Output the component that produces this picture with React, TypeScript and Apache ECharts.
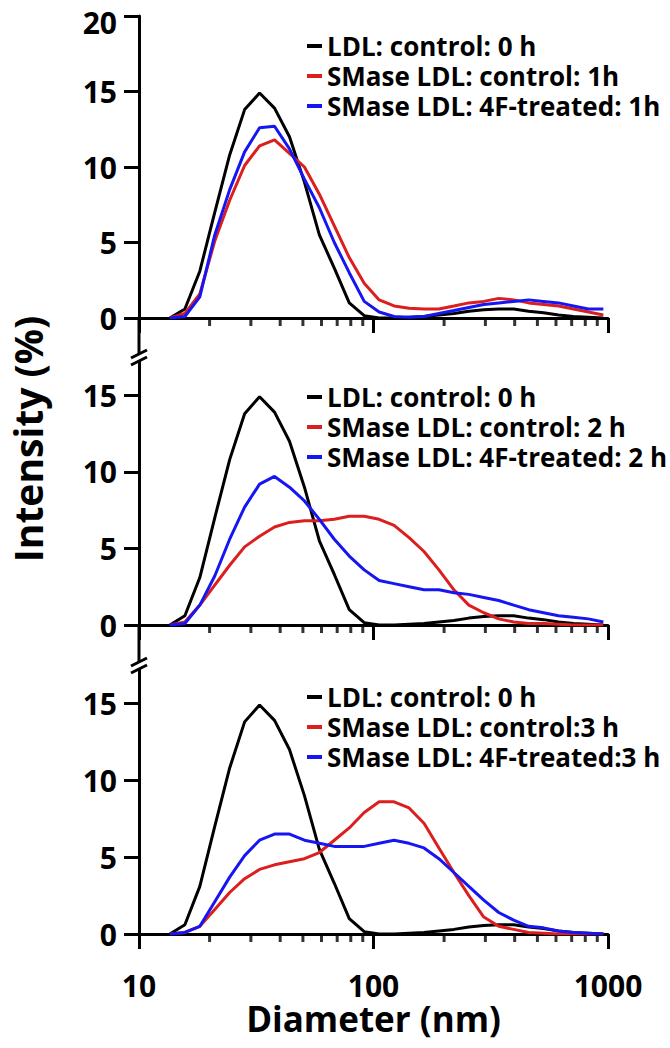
import React, { useEffect, useRef } from "react";
import * as echarts from "echarts";

// Malvern DLS size bins (nm) that carry the curves
const DIAMETERS = [
  13.54, 15.69, 18.17, 21.04, 24.36, 28.21, 32.67, 37.84, 43.82, 50.75,
  58.77, 68.06, 78.82, 91.28, 105.7, 122.4, 141.8, 164.2, 190.1, 220.2,
  255.0, 295.3, 342.0, 396.1, 458.7, 531.2, 615.1, 712.4, 825.0, 955.4,
];

const LDL_CONTROL_0H = [
  0, 0.6, 3.1, 7.0, 10.8, 13.8, 14.9, 13.9, 12.0, 9.0,
  5.5, 3.3, 1.0, 0.15, 0, 0, 0.05, 0.1, 0.2, 0.3,
  0.45, 0.55, 0.6, 0.6, 0.45, 0.35, 0.2, 0.1, 0.05, 0,
];
const SMASE_CONTROL_1H = [
  0, 0.3, 1.6, 5.1, 7.8, 10.1, 11.4, 11.8, 10.9, 10.0,
  8.2, 6.1, 4.0, 2.3, 1.2, 0.8, 0.65, 0.6, 0.6, 0.8,
  1.0, 1.1, 1.3, 1.2, 1.0, 0.9, 0.8, 0.6, 0.4, 0.2,
];
const SMASE_4F_1H = [
  0, 0.1, 1.4, 5.5, 8.5, 11.0, 12.6, 12.7, 11.2, 9.2,
  7.3, 5.0, 3.0, 1.1, 0.4, 0.1, 0.05, 0.1, 0.3, 0.5,
  0.7, 0.9, 1.0, 1.1, 1.2, 1.1, 1.0, 0.8, 0.6, 0.6,
];
const SMASE_CONTROL_2H = [
  0, 0.2, 1.3, 2.6, 3.9, 5.1, 5.8, 6.4, 6.7, 6.8,
  6.8, 6.9, 7.1, 7.1, 6.9, 6.5, 5.7, 4.8, 3.6, 2.3,
  1.3, 0.8, 0.4, 0.2, 0.1, 0.1, 0.05, 0, 0, 0,
];
const SMASE_4F_2H = [
  0, 0.1, 1.3, 3.2, 5.6, 7.7, 9.2, 9.7, 9.0, 8.1,
  6.9, 5.6, 4.5, 3.6, 2.9, 2.7, 2.5, 2.3, 2.3, 2.1,
  2.0, 1.8, 1.6, 1.3, 1.0, 0.8, 0.6, 0.5, 0.4, 0.2,
];
const SMASE_CONTROL_3H = [
  0, 0.1, 0.5, 1.6, 2.7, 3.6, 4.2, 4.5, 4.7, 4.9,
  5.3, 6.1, 6.9, 7.9, 8.6, 8.6, 8.2, 7.2, 5.6, 4.0,
  2.5, 1.1, 0.5, 0.3, 0.1, 0.05, 0, 0, 0, 0,
];
const SMASE_4F_3H = [
  0, 0.1, 0.5, 2.1, 3.7, 5.1, 6.1, 6.5, 6.5, 6.1,
  5.9, 5.7, 5.7, 5.7, 5.9, 6.1, 5.9, 5.6, 4.9, 4.0,
  3.1, 2.2, 1.4, 0.9, 0.5, 0.4, 0.2, 0.1, 0.05, 0,
];

const PANELS = [
  {
    names: ["LDL: control: 0 h", "SMase LDL: control: 1h", "SMase LDL: 4F-treated: 1h"],
    values: [LDL_CONTROL_0H, SMASE_CONTROL_1H, SMASE_4F_1H],
    yMax: 20,
    yTicks: [0, 5, 10, 15, 20],
  },
  {
    names: ["LDL: control: 0 h", "SMase LDL: control: 2 h", "SMase LDL: 4F-treated: 2 h"],
    values: [LDL_CONTROL_0H, SMASE_CONTROL_2H, SMASE_4F_2H],
    yMax: 17.5,
    yTicks: [0, 5, 10, 15],
  },
  {
    names: ["LDL: control: 0 h", "SMase LDL: control:3 h", "SMase LDL: 4F-treated:3 h"],
    values: [LDL_CONTROL_0H, SMASE_CONTROL_3H, SMASE_4F_3H],
    yMax: 17.5,
    yTicks: [0, 5, 10, 15],
  },
];

const X_MINOR = [20, 30, 40, 50, 60, 70, 80, 90, 200, 300, 400, 500, 600, 700, 800, 900];
const COLORS = ["#000000", "#dc1e1e", "#1616f2"];

// layout
const W = 670;
const H = 1048;
const LEFT = 139;
const PLOT_W = 469;
const GRIDS = [
  { top: 10, height: 308 },
  { top: 357, height: 268 },
  { top: 665, height: 269 },
];
const LEGEND_TOPS = [26, 377, 677];
const FONT = "Open Sans";

export default function App() {
  const ref = useRef<HTMLDivElement>(null);

  useEffect(() => {
    if (!ref.current) return;
    const chart = echarts.init(ref.current, undefined, { renderer: "svg" });

    const grid = GRIDS.map((g) => ({ left: LEFT, width: PLOT_W, top: g.top, height: g.height }));

    const xAxis = PANELS.map((_, i) => {
      const isBottom = i === PANELS.length - 1;
      return {
        type: "log",
        logBase: 10,
        min: 10,
        max: 1000,
        gridIndex: i,
        axisLine: { lineStyle: { color: "#000", width: 3 }, onZero: false },
        axisTick: { show: true, length: 15, lineStyle: { width: 3, color: "#000" } },
        splitLine: { show: false },
        axisLabel: {
          show: isBottom,
          fontSize: 30,
          fontWeight: "bold",
          fontFamily: FONT,
          color: "#000",
          margin: 36,
          formatter: (v: number) => String(Math.round(v)),
        },
        name: isBottom ? "Diameter (nm)" : "",
        nameLocation: "middle",
        nameGap: 58,
        nameTextStyle: { fontSize: 35, fontWeight: "bold", fontFamily: FONT, color: "#000" },
      };
    });

    const yAxis = PANELS.map((p, i) => ({
      type: "value",
      min: 0,
      max: p.yMax,
      interval: 5,
      gridIndex: i,
      axisLine: { show: true, lineStyle: { color: "#000", width: 3 } },
      axisTick: { show: true, length: 15, lineStyle: { width: 3, color: "#000" }, customValues: p.yTicks },
      splitLine: { show: false },
      axisLabel: {
        fontSize: 30,
        fontWeight: "bold",
        fontFamily: FONT,
        color: "#000",
        margin: 22,
        customValues: p.yTicks,
        formatter: (v: number) => (i === 0 && v === p.yMax ? `{sp| }\n{n|${v}}` : `${v}`),
        rich: {
          sp: { fontSize: 2, lineHeight: 13 },
          n: { fontSize: 30, lineHeight: 30, fontWeight: "bold", fontFamily: FONT, color: "#000" },
        },
      },
    }));

    const series: any[] = [];
    PANELS.forEach((p, i) => {
      // minor ticks of the log axis (20..90, 200..900), placed by the log scale
      series.push({
        type: "scatter",
        xAxisIndex: i,
        yAxisIndex: i,
        silent: true,
        clip: false,
        z: 1,
        symbol: "rect",
        symbolSize: [3, 8],
        symbolOffset: [0, 4],
        itemStyle: { color: "#000" },
        data: X_MINOR.map((v) => [v, 0]),
      });
      p.names.forEach((name, k) => {
        series.push({
          type: "line",
          name,
          xAxisIndex: i,
          yAxisIndex: i,
          showSymbol: false,
          symbol: "none",
          color: COLORS[k],
          lineStyle: { width: 3, color: COLORS[k] },
          z: 2 + k,
          data: DIAMETERS.map((d, j) => [d, p.values[k][j]]),
        });
      });
    });

    const legend = PANELS.map((p, i) => ({
      orient: "vertical",
      left: 302,
      top: LEGEND_TOPS[i],
      icon: "rect",
      itemWidth: 15,
      itemHeight: 4,
      itemGap: 0,
      selectedMode: false,
      data: p.names.map((n, k) => ({ name: n, itemStyle: { color: COLORS[k] } })),
      textStyle: { fontSize: 26, lineHeight: 30, fontWeight: "bold", fontFamily: FONT, color: "#000" },
    }));

    // continuous y-axis between the panels, and the break marks
    const axisX = LEFT;
    const graphic: any[] = [];
    for (let i = 0; i < GRIDS.length - 1; i++) {
      const y0 = GRIDS[i].top + GRIDS[i].height;
      const y1 = GRIDS[i + 1].top;
      graphic.push({
        type: "line",
        shape: { x1: axisX, y1: y0, x2: axisX, y2: y1 + 2 },
        style: { stroke: "#000", lineWidth: 3 },
        z: 10,
      });
      const cy = y1 + 2;
      graphic.push({
        type: "rect",
        shape: { x: axisX - 3, y: cy - 5, width: 6, height: 6 },
        style: { fill: "#fff" },
        z: 11,
      });
      graphic.push({
        type: "line",
        shape: { x1: axisX - 8, y1: cy - 1, x2: axisX + 8, y2: cy - 9 },
        style: { stroke: "#000", lineWidth: 3 },
        z: 12,
      });
      graphic.push({
        type: "line",
        shape: { x1: axisX - 8, y1: cy + 6, x2: axisX + 8, y2: cy - 2 },
        style: { stroke: "#000", lineWidth: 3 },
        z: 12,
      });
    }
    graphic.push({
      type: "text",
      x: 27,
      y: 439,
      rotation: Math.PI / 2,
      style: {
        text: "Intensity (%)",
        fontSize: 39,
        fontWeight: "bold",
        fontFamily: FONT,
        fill: "#000",
        align: "center",
        verticalAlign: "middle",
      },
      z: 20,
    });

    chart.setOption({
      animation: false,
      backgroundColor: "#fff",
      textStyle: { fontFamily: FONT },
      grid,
      xAxis,
      yAxis,
      legend,
      series,
      graphic,
    });

    return () => chart.dispose();
  }, []);

  return (
    <div
      ref={ref}
      style={{ position: "absolute", left: 0, top: 0, width: W, height: H }}
    />
  );
}
